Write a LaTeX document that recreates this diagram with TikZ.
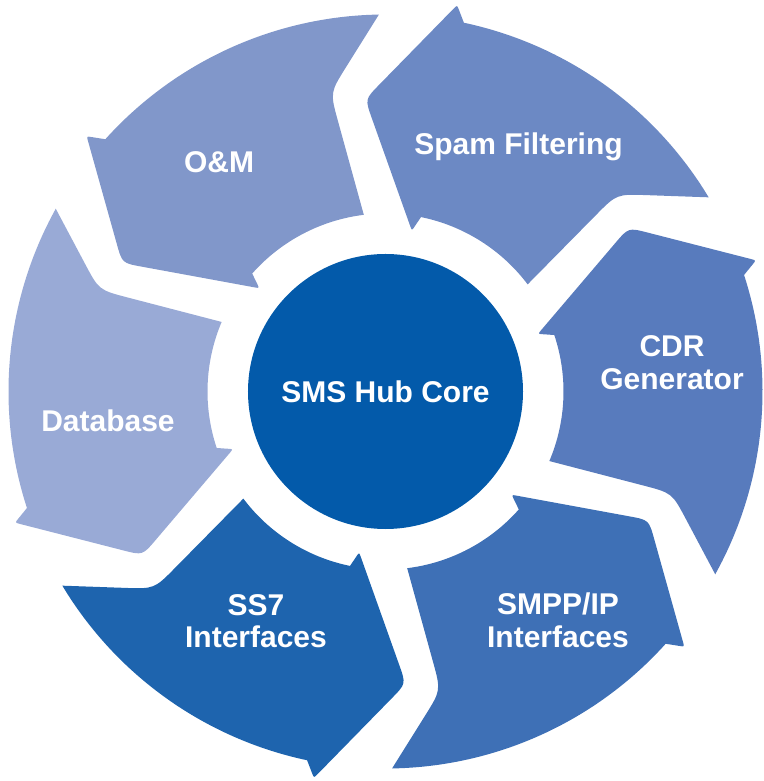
\documentclass[tikz,border=0pt]{standalone}
\usepackage{fontspec}
\setmainfont{Liberation Sans}
\usetikzlibrary{calc}
\definecolor{omC}{HTML}{8197CA}
\definecolor{spamC}{HTML}{6C89C4}
\definecolor{cdrC}{HTML}{587BBD}
\definecolor{smppC}{HTML}{3E70B6}
\definecolor{ssC}{HTML}{1E64AE}
\definecolor{dbC}{HTML}{99AAD6}
\definecolor{coreC}{HTML}{035AAA}
\begin{document}
\begin{tikzpicture}[x=1pt,y=1pt,
  lbl/.style={text=white, font=\fontsize{30}{33}\selectfont\bfseries, anchor=base, inner sep=0pt}]
\useasboundingbox (-385.5,-389.5) rectangle (377.5,391.5);
\foreach \T/\col in {94/spamC, 34/cdrC, -26/smppC, -86/ssC, -146/dbC, 154/omC}{
  \coordinate (tip) at ({\T}:293pt);
  \coordinate (ob) at ({\T-14.5}:393pt);
  \coordinate (oa) at ({\T-16}:377pt);
  \coordinate (oc) at ({\T-63}:377pt);
  \coordinate (np) at ({\T-53.5}:304pt);
  \coordinate (ic) at ({\T-57}:178pt);
  \coordinate (ia) at ({\T-15.5}:178pt);
  \coordinate (ib) at ({\T-13.3}:163pt);
  \fill[fill=\col] ($(tip)!20pt!(ob)$) -- ($(ob)!5pt!(tip)$) .. controls (ob) .. ($(ob)!5pt!(oa)$)
    -- (oa) arc[start angle=\T-16, end angle=\T-63, radius=377pt]
    -- ($(np)!30pt!(oc)$) .. controls (np) .. ($(np)!30pt!(ic)$)
    -- (ic) arc[start angle=\T-57, end angle=\T-15.5, radius=178pt]
    -- ($(ib)!5pt!(ia)$) .. controls (ib) .. ($(ib)!5pt!(tip)$)
    -- ($(tip)!20pt!(ib)$) .. controls (tip) .. ($(tip)!20pt!(ob)$) -- cycle;
}
\node[circle, fill=coreC, minimum size=275pt, inner sep=0pt, text=white,
  font=\fontsize{30}{33}\selectfont\bfseries] (core) at (0,0) {SMS Hub Core};
\node[lbl] (om) at (-166.5,218.5) {O\&M};
\node[lbl] (spam) at (133,236.5) {Spam Filtering};
\node[lbl] (cdra) at (286.5,34.5) {CDR};
\node[lbl] (cdrb) at (286.5,1.5) {Generator};
\node[lbl] (db) at (-277.5,-40.5) {Database};
\node[lbl] (ssa) at (-129.5,-223.5) {SS7};
\node[lbl] (ssb) at (-129.5,-255.5) {Interfaces};
\node[lbl] (smppa) at (172.5,-222.5) {SMPP/IP};
\node[lbl] (smppb) at (172.5,-255.5) {Interfaces};
\end{tikzpicture}
\end{document}
